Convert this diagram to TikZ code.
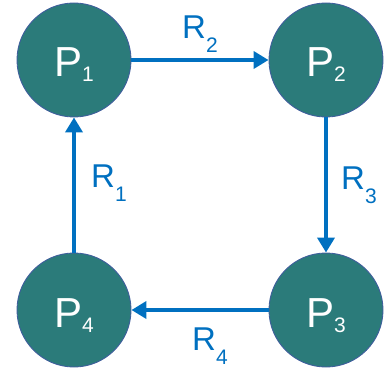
\documentclass[tikz,border=0pt]{standalone}
\usepackage{fontspec}
\setmainfont{Liberation Sans}
\usetikzlibrary{arrows.meta}
\definecolor{tealfill}{HTML}{2B7B7A}
\definecolor{edgeblue}{HTML}{3F5E9C}
\definecolor{arrblue}{HTML}{0070C0}
\newcommand{\pname}[1]{P\raisebox{-5pt}{\fontsize{21}{21}\selectfont #1}}
\newcommand{\rname}[1]{R\raisebox{-14pt}{\fontsize{21}{21}\selectfont #1}}
\begin{document}
\begin{tikzpicture}[x=1pt,y=1pt,
  proc/.style={circle,fill=tealfill,draw=edgeblue,line width=0.9pt,minimum size=114pt,inner sep=0pt,
    text=white,font=\fontsize{42}{42}\selectfont,text height=34pt,text depth=0pt},
  conn/.style={draw=arrblue,line width=4pt,-{Triangle[length=15pt,width=17pt]}},
  rlab/.style={anchor=base west,inner sep=0pt,text=arrblue,font=\fontsize{33}{33}\selectfont}]
\useasboundingbox (0,0) rectangle (387,370);
\node[proc] (p1) at (74,310) {\pname{1}};
\node[proc] (p2) at (326,310) {\pname{2}};
\node[proc] (p3) at (326,60) {\pname{3}};
\node[proc] (p4) at (74,60) {\pname{4}};
\draw[conn] (p1) -- (p2);
\draw[conn] (p2) -- (p3);
\draw[conn] (p3) -- (p4);
\draw[conn] (p4) -- (p1);
\node[rlab] (r2) at (182,331) {\rname{2}};
\node[rlab] (r3) at (341,181) {\rname{3}};
\node[rlab] (r1) at (91,183) {\rname{1}};
\node[rlab] (r4) at (192,20) {\rname{4}};
\end{tikzpicture}
\end{document}
